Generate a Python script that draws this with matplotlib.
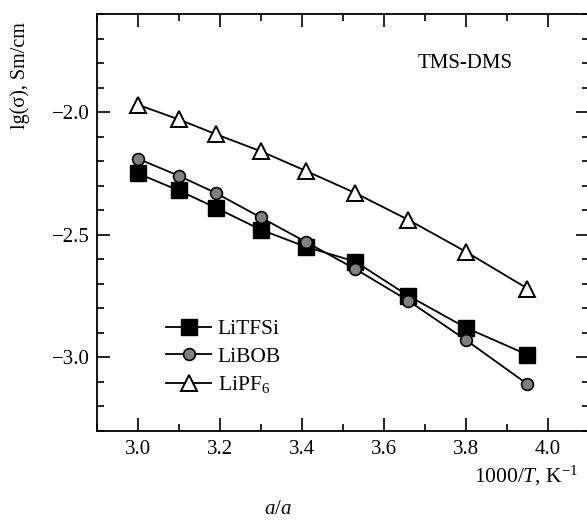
import numpy as np
import matplotlib
matplotlib.use("Agg")
import matplotlib.pyplot as plt
from matplotlib.ticker import MultipleLocator

plt.rcParams['font.family'] = ['Liberation Serif', 'DejaVu Serif']
plt.rcParams['mathtext.fontset'] = 'custom'
plt.rcParams['mathtext.rm'] = 'Liberation Serif'
plt.rcParams['mathtext.it'] = 'Liberation Serif:italic'
plt.rcParams['font.size'] = 15

# inverse temperature, 1000/T
inv_t = [3.00, 3.10, 3.19, 3.30, 3.41, 3.53, 3.66, 3.80, 3.95]

# lg(conductivity) for each salt in TMS-DMS
litfsi = [-2.25, -2.32, -2.39, -2.48, -2.55, -2.61, -2.75, -2.88, -2.99]
libob = [-2.19, -2.26, -2.33, -2.43, -2.53, -2.64, -2.77, -2.93, -3.11]
lipf6 = [-1.97, -2.03, -2.09, -2.16, -2.24, -2.33, -2.44, -2.57, -2.72]

fig = plt.figure(figsize=(5.87, 5.2), dpi=100)
W, H = 587, 520
ax = fig.add_axes([96.7 / W, (H - 430.7) / H, 492.3 / W, 416.7 / H])

ax.plot(inv_t, litfsi, color='black', lw=1.3, marker='s', ms=11,
        mfc='black', mec='black', mew=1.0, label='LiTFSi')
ax.plot(inv_t, libob, color='black', lw=1.3, marker='o', ms=8.5,
        mfc='#808080', mec='black', mew=1.2, label='LiBOB')
ax.plot(inv_t, lipf6, color='black', lw=1.3, marker='^', ms=11,
        mfc='white', mec='black', mew=1.4, label='LiPF$_6$')

ax.set_xlim(2.9, 4.1)
ax.set_ylim(-3.3, -1.6)
ax.xaxis.set_major_locator(MultipleLocator(0.2))
ax.xaxis.set_minor_locator(MultipleLocator(0.1))
ax.yaxis.set_major_locator(MultipleLocator(0.5))
ax.yaxis.set_minor_locator(MultipleLocator(0.1))
ax.xaxis.set_major_formatter(matplotlib.ticker.FormatStrFormatter('%.1f'))
ax.yaxis.set_major_formatter(
    matplotlib.ticker.FuncFormatter(lambda v, p: f'{v:.1f}'.replace('-', '\u2212')))

ax.tick_params(which='both', direction='in', top=True, right=True, width=1.2)
ax.tick_params(which='major', length=9.5)
ax.tick_params(which='minor', length=5)
ax.tick_params(axis='x', pad=6.5)
ax.tick_params(axis='y', pad=5)
for sp in ax.spines.values():
    sp.set_linewidth(1.3)

ax.legend(loc='upper left', bbox_to_anchor=(0.141, 0.268), frameon=False,
          borderpad=0, borderaxespad=0, handlelength=2.1, handletextpad=0.3,
          labelspacing=0.35, fontsize=15.5)

fig.text(513 / W, (H - 64) / H, 'TMS-DMS', ha='right', va='center', fontsize=15)
fig.text(20 / W, (H - 75.5) / H, 'lg(\u03c3), Sm/cm', rotation=90,
         ha='center', va='center', fontsize=14.5)
fig.text(579 / W, (H - 482) / H, r'1000/$T$, K$^{-1}$', ha='right',
         va='baseline', fontsize=15.5)
fig.text(278 / W, (H - 514) / H, r'$a/a$', ha='center', va='baseline', fontsize=15)

fig.savefig('out.png', dpi=100)
